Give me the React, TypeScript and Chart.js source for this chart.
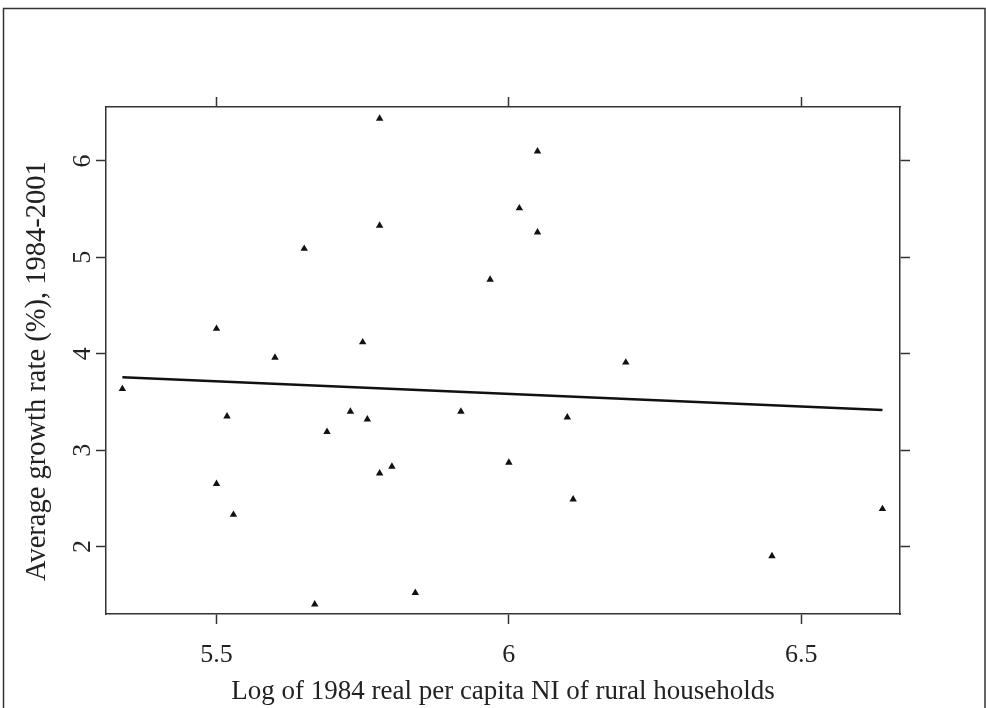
import React, { useEffect, useRef } from "react";
import { Chart, registerables } from "chart.js";

Chart.register(...registerables);

const xValues = [5.339, 5.5, 5.5, 5.518, 5.529, 5.6, 5.65, 5.668, 5.689, 5.729, 5.75, 5.758, 5.779, 5.779, 5.779, 5.8, 5.84, 5.918, 5.968, 6.0, 6.018, 6.049, 6.049, 6.1, 6.11, 6.2, 6.45, 6.639];
const yValues = [3.635, 4.26, 2.65, 3.35, 2.33, 3.96, 5.09, 1.4, 3.19, 3.4, 4.12, 3.32, 6.44, 5.33, 2.76, 2.83, 1.52, 3.4, 4.77, 2.87, 5.51, 6.1, 5.26, 3.34, 2.49, 3.91, 1.9, 2.39];
const fitX = [5.339, 6.639];
const fitY = [3.756, 3.417];
const xTicks = [5.5, 6, 6.5];
const yTicks = [2, 3, 4, 5, 6];
const xRange = [5.311, 6.669];
const yRange = [1.3, 6.56];
const xTitle = "Log of 1984 real per capita NI of rural households";
const yTitle = "Average growth rate (%), 1984-2001   ";

const FONT = "'Liberation Serif', 'Times New Roman', serif";
const INK = "#222";
const LINE = "#333";

const framePlugin = {
  id: "frame",
  afterDraw(chart: any) {
    const ctx = chart.ctx;
    ctx.save();
    ctx.strokeStyle = LINE;
    ctx.lineWidth = 1.5;
    ctx.beginPath();
    ctx.moveTo(3.5, 708);
    ctx.lineTo(3.5, 8.5);
    ctx.lineTo(985, 8.5);
    ctx.lineTo(985, 708);
    ctx.stroke();
    ctx.restore();
  },
};

export default function App() {
  const ref = useRef<HTMLCanvasElement | null>(null);
  useEffect(() => {
    if (!ref.current) return;
    const grid = {
      display: true,
      drawOnChartArea: false,
      drawTicks: true,
      tickLength: 10,
      tickColor: LINE,
      tickWidth: 1.5,
    };
    const border = { display: true, color: LINE, width: 1.5 };
    const setTicks = (vals: number[]) => (axis: any) => {
      axis.ticks = vals.map((v) => ({ value: v }));
    };
    const chart = new Chart(ref.current, {
      type: "scatter",
      data: {
        datasets: [
          {
            label: "points",
            data: xValues.map((x, i) => ({ x, y: yValues[i] })),
            pointStyle: "triangle",
            pointRadius: 4.3,
            backgroundColor: "#111",
            borderColor: "#111",
            borderWidth: 0,
          },
          {
            label: "fit",
            data: fitX.map((x, i) => ({ x, y: fitY[i] })),
            showLine: true,
            pointRadius: 0,
            borderColor: "#111",
            borderWidth: 2.5,
          } as any,
        ],
      },
      options: {
        animation: false,
        responsive: false,
        maintainAspectRatio: false,
        layout: { padding: 0 },
        plugins: { legend: { display: false }, tooltip: { enabled: false } },
        scales: {
          x: {
            type: "linear",
            position: "bottom",
            min: xRange[0],
            max: xRange[1],
            afterBuildTicks: setTicks(xTicks),
            afterFit: (s: any) => { s.height = 94; },
            ticks: {
              color: INK,
              font: { family: FONT, size: 26 },
              padding: 16,
              maxRotation: 0,
              callback: (v: any) => String(v),
            },
            grid,
            border,
            title: {
              display: true,
              text: xTitle,
              color: INK,
              font: { family: FONT, size: 27 },
              padding: { top: 0, bottom: 0 },
            },
          },
          x2: {
            type: "linear",
            position: "top",
            min: xRange[0],
            max: xRange[1],
            afterBuildTicks: setTicks(xTicks),
            afterFit: (s: any) => { s.height = 107; },
            ticks: { display: false },
            grid,
            border,
          },
          y: {
            type: "linear",
            position: "left",
            min: yRange[0],
            max: yRange[1],
            afterBuildTicks: setTicks(yTicks),
            afterFit: (s: any) => { s.width = 106; },
            ticks: {
              color: INK,
              font: { family: FONT, size: 26 },
              padding: 6,
              minRotation: 90,
              maxRotation: 90,
              crossAlign: "center",
              callback: (v: any) => String(v),
            },
            grid,
            border,
            title: {
              display: true,
              text: yTitle,
              color: INK,
              font: { family: FONT, size: 28.5 },
              padding: { top: 20, bottom: 0 },
            },
          },
          y2: {
            type: "linear",
            position: "right",
            min: yRange[0],
            max: yRange[1],
            afterBuildTicks: setTicks(yTicks),
            afterFit: (s: any) => { s.width = 86; },
            ticks: { display: false },
            grid,
            border,
          },
        },
      } as any,
      plugins: [framePlugin],
    });
    return () => chart.destroy();
  }, []);
  return (
    <div style={{ position: "absolute", left: 0, top: 0, width: 986, height: 708, background: "#fff" }}>
      <canvas ref={ref} width={986} height={708} style={{ display: "block", width: 986, height: 708 }} />
    </div>
  );
}
